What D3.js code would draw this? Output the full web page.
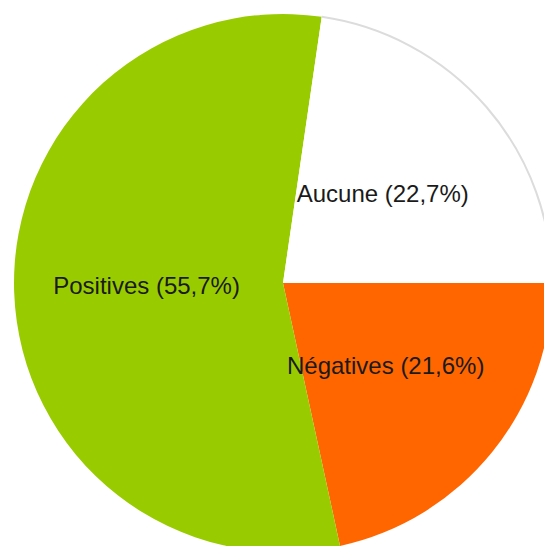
<!DOCTYPE html>
<html>
<head>
<meta charset="utf-8">
<script src="https://cdn.jsdelivr.net/npm/d3@7"></script>
<style>
  html, body { margin: 0; padding: 0; background: #ffffff; }
  svg { display: block; }
</style>
</head>
<body>
<svg id="chart" width="544" height="546"></svg>
<script>
// Data (clockwise from 3 o'clock)
const categories = ["Négatives", "Positives", "Aucune"];
const values = [21.6, 55.7, 22.7];
const labels = ["Négatives (21,6%)", "Positives (55,7%)", "Aucune (22,7%)"];
const colors = ["#ff6600", "#99cc00", "#ffffff"];

const svg = d3.select("#chart");
const cx = 283, cy = 283, R = 269;
const g = svg.append("g").attr("transform", `translate(${cx},${cy})`);

const pie = d3.pie()
  .sort(null)
  .value(d => d.value)
  .startAngle(Math.PI / 2)
  .endAngle(Math.PI / 2 + 2 * Math.PI);

const data = categories.map((c, i) => ({ category: c, value: values[i], label: labels[i], color: colors[i] }));
const arcs = pie(data);

const arc = d3.arc().innerRadius(0).outerRadius(R);
const rim = d3.arc().innerRadius(R).outerRadius(R);

g.selectAll("path.slice")
  .data(arcs)
  .join("path")
  .attr("class", "slice")
  .attr("d", arc)
  .attr("fill", d => d.data.color)
  .attr("stroke", "none");

// light gray outline around the white slice's rim
g.selectAll("path.rim")
  .data(arcs.filter(d => d.data.color === "#ffffff"))
  .join("path")
  .attr("class", "rim")
  .attr("d", rim)
  .attr("fill", "none")
  .attr("stroke", "#dcdcdc")
  .attr("stroke-width", 2);

g.selectAll("text.lbl")
  .data(arcs)
  .join("text")
  .attr("class", "lbl")
  .attr("transform", d => { const c = arc.centroid(d); return `translate(${c[0] - 2},${c[1] - 2})`; })
  .attr("text-anchor", "middle")
  .attr("dominant-baseline", "central")
  .attr("font-family", "Arial, 'Liberation Sans', sans-serif")
  .attr("font-size", "24px")
  .attr("fill", "#1a1a1a")
  .text(d => d.data.label);
</script>
</body>
</html>
